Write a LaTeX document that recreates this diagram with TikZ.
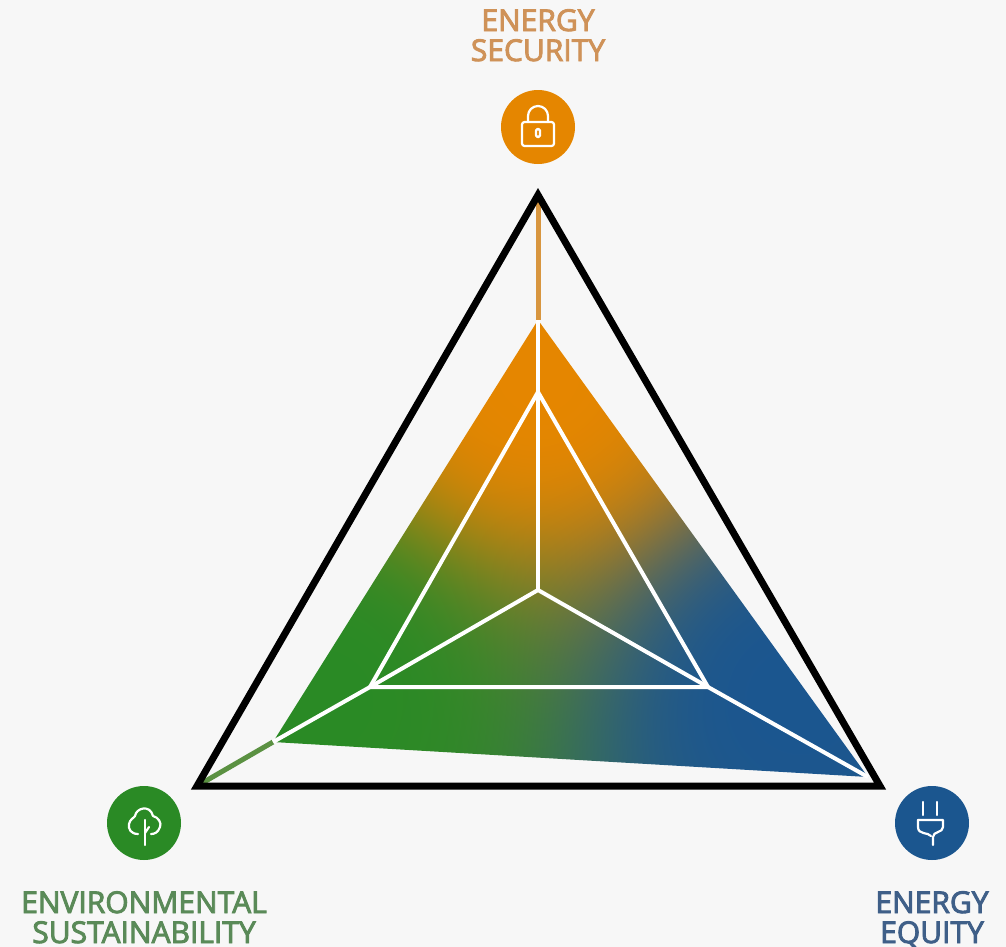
\documentclass[tikz,border=0pt]{standalone}
\usepackage{fontspec}
\setmainfont{Open Sans}[FakeBold=3]
\pgfdeclarefunctionalshading{triad}{\pgfpointorigin}{\pgfpoint{1006bp}{947bp}}{}{
 947 exch sub
 1 index 538 sub dup mul 1 index 375 sub dup mul add 10000 div 0.01 add dup sqrt mul 1 exch div
 2 index 325 sub dup mul 2 index 695 sub dup mul add 10000 div 0.01 add dup sqrt mul 1 exch div
 3 index 795 sub dup mul 3 index 695 sub dup mul add 10000 div 0.01 add dup sqrt mul 1 exch div
 5 -2 roll pop pop
 3 copy add add
 3 index 0.898 mul 3 index 0.165 mul add 2 index 0.106 mul add 1 index div
 4 index 0.525 mul 4 index 0.541 mul add 3 index 0.337 mul add 2 index div
 5 index 0.000 mul 5 index 0.145 mul add 4 index 0.561 mul add 3 index div
 7 3 roll pop pop pop pop
}
\definecolor{bgc}{HTML}{F7F7F7}
\definecolor{orangec}{HTML}{E58600}
\definecolor{greenc}{HTML}{2A8A25}
\definecolor{bluec}{HTML}{1B568F}
\definecolor{orangetx}{HTML}{CF9258}
\definecolor{greentx}{HTML}{5A8A58}
\definecolor{bluetx}{HTML}{3F5F88}
\definecolor{orangetail}{HTML}{D8963F}
\definecolor{greentail}{HTML}{5B9142}
\tikzset{
 badge/.style={circle,minimum size=74bp,inner sep=0pt},
 lbl/.style={anchor=base,inner sep=0pt,font=\fontsize{30bp}{34bp}\selectfont},
 wline/.style={draw=white,line width=4bp},
 icon/.style={draw=white,line width=2.2bp,line cap=round,line join=round},
 frameline/.style={draw=black,line width=7bp,miter limit=10}
}
\begin{document}
\begin{tikzpicture}[x=1bp,y=-1bp]
\useasboundingbox (0,0) rectangle (1006,947);
\fill[bgc] (0,0) rectangle (1006,947);
\coordinate (T) at (538,195);
\coordinate (L) at (197,786);
\coordinate (R) at (880,786);
\coordinate (pT) at (538,320);
\coordinate (pL) at (273,742);
\coordinate (pR) at (868,777);
\coordinate (iT) at (538,392);
\coordinate (iL) at (370,687);
\coordinate (iR) at (708,687);
\coordinate (C) at (538,590);
\begin{scope}
 \clip (pT) -- (pR) -- (pL) -- cycle;
 \node[anchor=south west,inner sep=0pt] (grad) at (0,947) {\pgfuseshading{triad}};
\end{scope}
\draw[orangetail,line width=5bp] (T) -- (pT);
\draw[greentail,line width=5bp] (L) -- (pL);
\draw[wline] (pT) -- (C);
\draw[wline] (pL) -- (iL) -- (C) -- (iR) -- (pR);
\draw[wline,line join=miter] (iL) -- (iT) -- (iR) -- cycle;
\draw[frameline] (T) -- (R) -- (L) -- cycle;
\node[badge,fill=orangec] (bS) at (538,127) {};
\node[badge,fill=greenc] (bE) at (144,823) {};
\node[badge,fill=bluec] (bQ) at (932,823) {};
% lock
\draw[icon,rounded corners=2.5bp] ([shift={(-16,-5)}]bS.center) rectangle ([shift={(16,19)}]bS.center);
\draw[icon] ([shift={(-10,-5)}]bS.center) -- ([shift={(-10,-11)}]bS.center)
  arc[start angle=180,end angle=0,x radius=10,y radius=-10] -- ([shift={(10,-5)}]bS.center);
\draw[icon,rounded corners=1.5bp] ([shift={(-2,2)}]bS.center) rectangle ([shift={(2,10)}]bS.center);
% tree
\draw[icon] ([shift={(-6,11)}]bE.center) .. controls ([shift={(-13,11)}]bE.center) and ([shift={(-16,6)}]bE.center) .. ([shift={(-15,1)}]bE.center)
  .. controls ([shift={(-14,-4)}]bE.center) and ([shift={(-10,-5)}]bE.center) .. ([shift={(-9,-7)}]bE.center)
  .. controls ([shift={(-8,-15)}]bE.center) and ([shift={(6,-19)}]bE.center) .. ([shift={(9,-7)}]bE.center)
  .. controls ([shift={(14,-6)}]bE.center) and ([shift={(18,0)}]bE.center) .. ([shift={(16,4)}]bE.center)
  .. controls ([shift={(14,10)}]bE.center) and ([shift={(10,11)}]bE.center) .. ([shift={(7,11)}]bE.center);
\draw[icon] ([shift={(1,-3)}]bE.center) -- ([shift={(1,22)}]bE.center);
\draw[icon] ([shift={(1,10)}]bE.center) -- ([shift={(5,4)}]bE.center);
% plug
\draw[icon] ([shift={(-9,-21)}]bQ.center) -- ([shift={(-9,-8)}]bQ.center);
\draw[icon] ([shift={(5,-21)}]bQ.center) -- ([shift={(5,-8)}]bQ.center);
\draw[icon] ([shift={(-14,-3)}]bQ.center) -- ([shift={(11,-3)}]bQ.center) -- ([shift={(11,4)}]bQ.center)
  .. controls ([shift={(11,10)}]bQ.center) and ([shift={(1,8)}]bQ.center) .. ([shift={(1,14)}]bQ.center)
  -- ([shift={(1,22)}]bQ.center);
\draw[icon] ([shift={(-14,-3)}]bQ.center) -- ([shift={(-14,4)}]bQ.center)
  .. controls ([shift={(-14,12)}]bQ.center) and ([shift={(-4,9)}]bQ.center) .. ([shift={(-1,13)}]bQ.center);
% labels
\node[lbl,text=orangetx] (s1) at (538,31) {ENERGY};
\node[lbl,text=orangetx] (s2) at (538,61) {SECURITY};
\node[lbl,text=greentx] (e1) at (144,913) {ENVIRONMENTAL};
\node[lbl,text=greentx] (e2) at (144,943) {SUSTAINABILITY};
\node[lbl,text=bluetx] (q1) at (932,913) {ENERGY};
\node[lbl,text=bluetx] (q2) at (932,943) {EQUITY};
\end{tikzpicture}
\end{document}
